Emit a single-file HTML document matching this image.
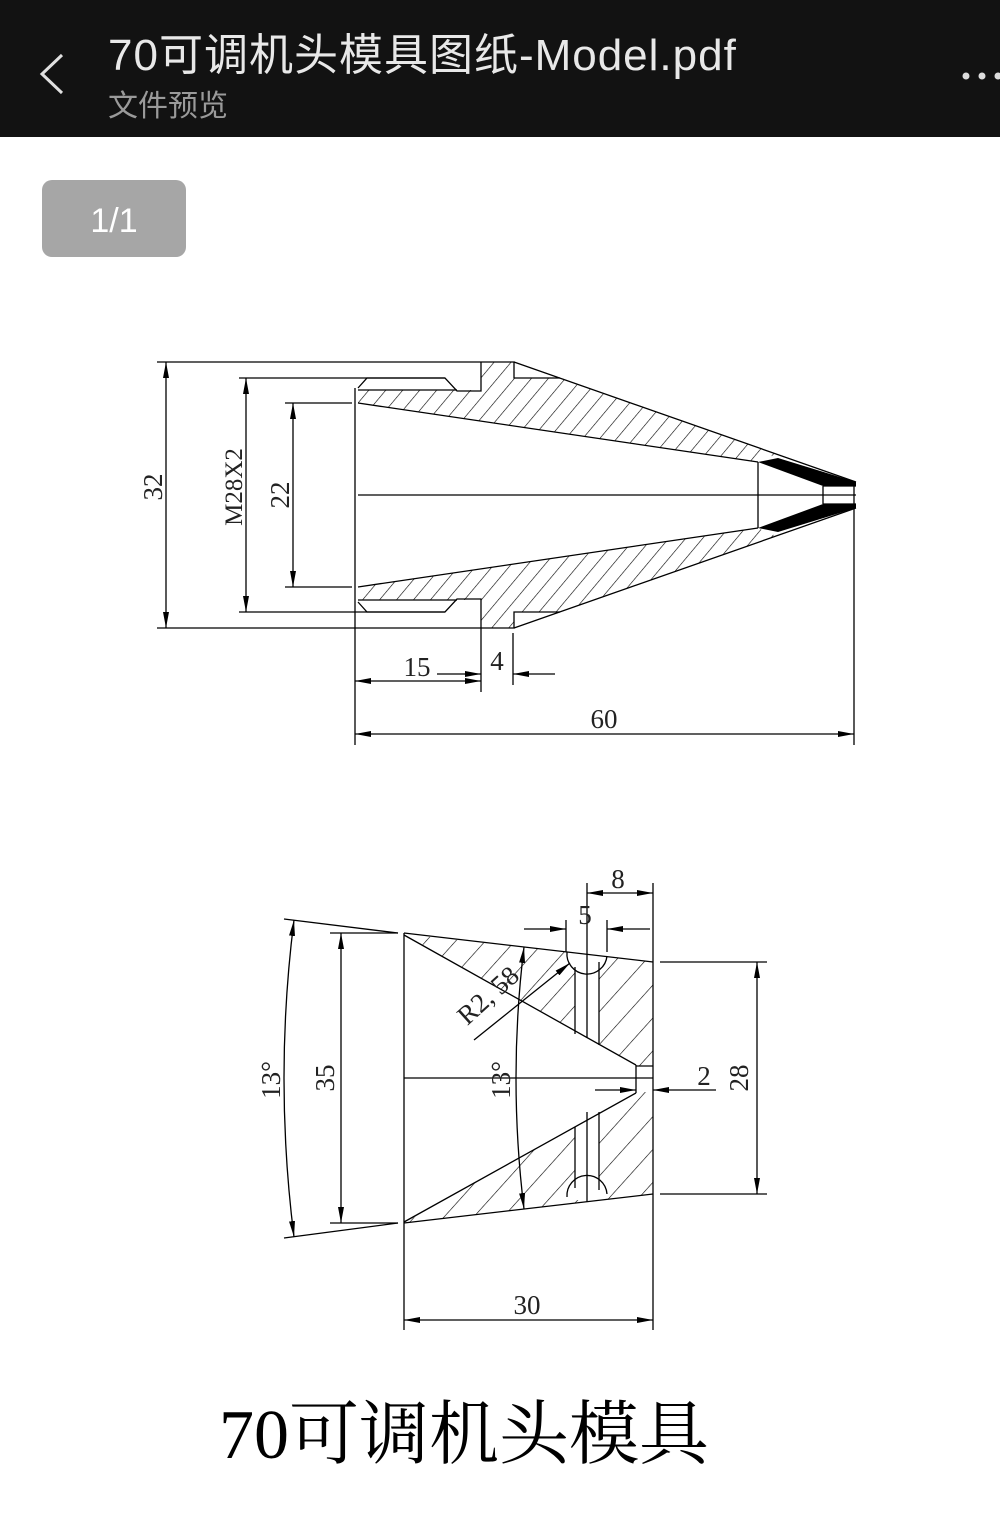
<!DOCTYPE html>
<html><head><meta charset="utf-8"><style>
html,body{margin:0;padding:0;background:#fff;}
body{width:1000px;height:1533px;position:relative;overflow:hidden;}
svg{position:absolute;left:0;top:0;}
</style></head><body>
<svg width="1000" height="1533" viewBox="0 0 1000 1533" xmlns="http://www.w3.org/2000/svg">
<defs>
<pattern id="h1" patternUnits="userSpaceOnUse" width="13" height="13" patternTransform="rotate(40)">
<line x1="0" y1="0" x2="0" y2="13" stroke="#000" stroke-width="1.2"/></pattern>
<pattern id="h2" patternUnits="userSpaceOnUse" width="22" height="22" patternTransform="rotate(42)">
<line x1="0" y1="0" x2="0" y2="22" stroke="#000" stroke-width="1.2"/></pattern>
<marker id="a" viewBox="0 0 16 6" refX="16" refY="3" markerWidth="16" markerHeight="6" markerUnits="userSpaceOnUse" orient="auto-start-reverse">
<path d="M0,0 L16,3 L0,6 z" fill="#000"/></marker>
</defs>
<rect x="0" y="0" width="1000" height="137" fill="#121212"/>
<polyline points="62,55 42,74 62,93" fill="none" stroke="#e0e0e0" stroke-width="3"/>
<text x="108" y="70" font-family="Liberation Sans, Noto Sans CJK SC, sans-serif" font-size="44" letter-spacing="1" fill="#e8e8e8">70可调机头模具图纸-Model.pdf</text>
<text x="108" y="116" font-family="Liberation Sans, Noto Sans CJK SC, sans-serif" font-size="30" fill="#9a9a9a">文件预览</text>
<circle cx="966" cy="76" r="3.5" fill="#ddd"/><circle cx="982" cy="76" r="3.5" fill="#ddd"/><circle cx="998" cy="76" r="3.5" fill="#ddd"/>
<rect x="42" y="180" width="144" height="77" rx="10" fill="#a6a6a6"/>
<text x="114" y="232" text-anchor="middle" font-family="Liberation Sans, sans-serif" font-size="34" fill="#fff">1/1</text>

<g stroke="#000" stroke-width="1.3" fill="none" font-family="Liberation Serif, serif">
<polygon points="358,390 481,390 481,362 514,362 514,378 560,378 776,454 758,462 358,403" fill="url(#h1)" stroke="none"/>
<polygon points="358,600 481,600 481,628 514,628 514,612 560,612 776,536 758,528 358,587" fill="url(#h1)" stroke="none"/>
<polygon points="758,462 778,458 856,482 856,486 823,486" fill="#000" stroke="none"/>
<polygon points="758,528 778,532 856,508 856,504 823,504" fill="#000" stroke="none"/>
<polyline points="157,362 514,362 514,378 560,378"/>
<line x1="514" y1="362" x2="856" y2="482"/>
<line x1="514" y1="628" x2="856" y2="508"/>
<polyline points="157,628 514,628 514,612 560,612"/>
<polyline points="481,362 481,391 457,391 445,378 239,378"/>
<polyline points="481,628 481,599 457,599 445,612 239,612"/>
<polyline points="445,378 367,378 358,388"/>
<polyline points="445,612 367,612 358,602"/>
<line x1="358" y1="390" x2="457" y2="390"/>
<line x1="358" y1="600" x2="457" y2="600"/>
<line x1="355" y1="388" x2="355" y2="745"/>
<line x1="358" y1="403" x2="758" y2="462"/>
<line x1="358" y1="587" x2="758" y2="528"/>
<line x1="285" y1="403" x2="352" y2="403"/>
<line x1="285" y1="587" x2="352" y2="587"/>
<line x1="758" y1="462" x2="758" y2="528"/>
<line x1="358" y1="495" x2="856" y2="495"/>
<line x1="823" y1="486" x2="856" y2="486"/>
<line x1="823" y1="504" x2="856" y2="504"/>
<line x1="823" y1="486" x2="823" y2="504"/>
<line x1="854" y1="482" x2="854" y2="745"/>
<line x1="481" y1="628" x2="481" y2="692"/>
<line x1="513" y1="633" x2="513" y2="685"/>
<line x1="166" y1="362" x2="166" y2="628" marker-start="url(#a)" marker-end="url(#a)"/>
<line x1="246" y1="378" x2="246" y2="612" marker-start="url(#a)" marker-end="url(#a)"/>
<line x1="293" y1="403" x2="293" y2="587" marker-start="url(#a)" marker-end="url(#a)"/>
<line x1="355" y1="681" x2="481" y2="681" marker-start="url(#a)" marker-end="url(#a)"/>
<line x1="437" y1="674" x2="481" y2="674" marker-end="url(#a)"/>
<line x1="555" y1="674" x2="513" y2="674" marker-end="url(#a)"/>
<line x1="355" y1="734" x2="854" y2="734" marker-start="url(#a)" marker-end="url(#a)"/>
<g stroke="none" fill="#222" font-size="27">
<text x="417" y="676" text-anchor="middle">15</text>
<text x="497" y="670" text-anchor="middle">4</text>
<text x="604" y="728" text-anchor="middle">60</text>
<text transform="translate(162,487) rotate(-90)" text-anchor="middle">32</text>
<text transform="translate(242,487) rotate(-90)" text-anchor="middle" font-size="25">M28X2</text>
<text transform="translate(289,495) rotate(-90)" text-anchor="middle">22</text>
</g>

<polygon points="404,934 653,962 653,1066 636,1066" fill="url(#h2)" stroke="none"/>
<polygon points="636,1092 653,1092 653,1194 404,1223" fill="url(#h2)" stroke="none"/>
<rect x="575" y="950" width="24" height="100" fill="#fff" stroke="none"/>
<rect x="575" y="1110" width="24" height="90" fill="#fff" stroke="none"/>
<path d="M567,952 A20,20 0 0 0 607,956" fill="#fff"/>
<path d="M567,1197 A20,20 0 0 1 607,1194" fill="#fff"/>
<line x1="404" y1="933" x2="653" y2="962"/>
<line x1="404" y1="1223" x2="653" y2="1194"/>
<line x1="404" y1="933" x2="404" y2="1330"/>
<line x1="653" y1="883" x2="653" y2="1330"/>
<line x1="404" y1="935" x2="636" y2="1065"/>
<line x1="404" y1="1222" x2="636" y2="1093"/>
<line x1="636" y1="1065" x2="636" y2="1093"/>
<line x1="636" y1="1066" x2="653" y2="1066"/>
<line x1="404" y1="1078" x2="653" y2="1078"/>
<line x1="575" y1="967" x2="575" y2="1034"/>
<line x1="599" y1="962" x2="599" y2="1045"/>
<line x1="575" y1="1127" x2="575" y2="1188"/>
<line x1="599" y1="1112" x2="599" y2="1190"/>
<line x1="587" y1="883" x2="587" y2="1038"/>
<line x1="587" y1="1112" x2="587" y2="1202"/>
<line x1="566" y1="920" x2="566" y2="952"/>
<line x1="607" y1="920" x2="607" y2="952"/>
<line x1="330" y1="933" x2="398" y2="933"/>
<line x1="330" y1="1223" x2="398" y2="1223"/>
<line x1="341" y1="933" x2="341" y2="1223" marker-start="url(#a)" marker-end="url(#a)"/>
<line x1="284" y1="919" x2="398" y2="933"/>
<line x1="284" y1="1238" x2="398" y2="1223"/>
<path d="M294,920 Q274,1078 294,1237" marker-start="url(#a)" marker-end="url(#a)"/>
<path d="M524,947 Q508,1078 524,1209" marker-start="url(#a)" marker-end="url(#a)"/>
<line x1="474" y1="1040" x2="570" y2="963" marker-end="url(#a)"/>
<line x1="587" y1="893" x2="653" y2="893" marker-start="url(#a)" marker-end="url(#a)"/>
<line x1="524" y1="929" x2="566" y2="929" marker-end="url(#a)"/>
<line x1="650" y1="929" x2="607" y2="929" marker-end="url(#a)"/>
<line x1="595" y1="1090" x2="636" y2="1090" marker-end="url(#a)"/>
<line x1="716" y1="1090" x2="653" y2="1090" marker-end="url(#a)"/>
<line x1="660" y1="962" x2="767" y2="962"/>
<line x1="660" y1="1194" x2="767" y2="1194"/>
<line x1="757" y1="962" x2="757" y2="1194" marker-start="url(#a)" marker-end="url(#a)"/>
<line x1="404" y1="1320" x2="653" y2="1320" marker-start="url(#a)" marker-end="url(#a)"/>
<g stroke="none" fill="#222" font-size="27">
<text x="618" y="888" text-anchor="middle">8</text>
<text x="585" y="924" text-anchor="middle">5</text>
<text x="704" y="1085" text-anchor="middle">2</text>
<text x="527" y="1314" text-anchor="middle">30</text>
<text transform="translate(748,1078) rotate(-90)" text-anchor="middle">28</text>
<text transform="translate(334,1078) rotate(-90)" text-anchor="middle">35</text>
<text transform="translate(280,1080) rotate(-90)" text-anchor="middle">13°</text>
<text transform="translate(510,1080) rotate(-90)" text-anchor="middle">13°</text>
<text transform="translate(494,1002) rotate(-42)" text-anchor="middle">R2, 58</text>
</g>
</g>
<text x="464" y="1458" text-anchor="middle" font-family="Liberation Serif, Noto Serif CJK SC, serif" font-size="70" fill="#000">70可调机头模具</text>
</svg>
</body></html>
